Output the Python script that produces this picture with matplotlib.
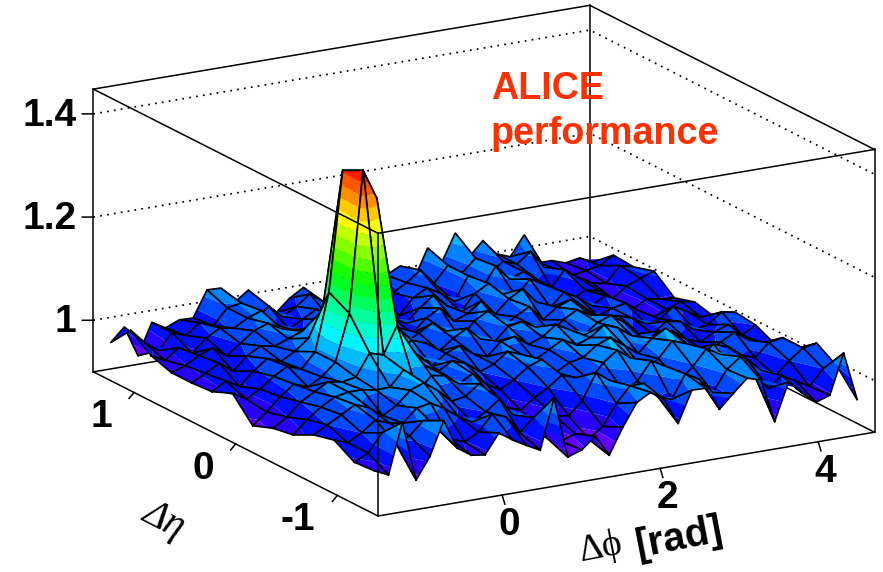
import numpy as np
import matplotlib
matplotlib.use("Agg")
import matplotlib.pyplot as plt
from matplotlib.colors import hsv_to_rgb
from mpl_toolkits.mplot3d import proj3d
from mpl_toolkits.mplot3d.art3d import Poly3DCollection

# bin centres: 36 bins in dphi, 14 bins in deta
phi_lo, phi_hi = -np.pi / 2, 3 * np.pi / 2
eta_lo, eta_hi = -1.4, 1.4
z_lo, z_hi = 0.9, 1.448
phi_edges = np.linspace(phi_lo, phi_hi, 37)
eta_edges = np.linspace(eta_lo, eta_hi, 15)
phi_centres = 0.5 * (phi_edges[:-1] + phi_edges[1:])
eta_centres = 0.5 * (eta_edges[:-1] + eta_edges[1:])

# correlation, one row per deta bin (front to back)
eta_00 = [.975, .963, 1.06, .944, .985, 1.05, .992, .974, .97, 1.008, .99, .975, .961, 1.058, .939, .948, .97, .929, .979, 1.022, 1.037, 1.018, .968, 1.028, 1.027, .982, 1.008, 1.033, 1.025, .94, 1.012, .986, .964, .973, 1.05, .954]
eta_01 = [.972, .985, 1.02, .995, 1.005, 1.03, 1.01, .985, .975, .99, 1.02, 1.01, .975, 1.0, .955, .945, .955, .94, .96, 1.0, 1.03, 1.03, 1.0, .99, 1.035, 1.02, .99, 1.03, 1.05, 1.01, .98, 1.0, .985, .97, 1.0, 1.0]
eta_02 = [.995, .985, 1.0, 1.02, 1.01, 1.005, 1.03, 1.035, 1.02, 1.0, .985, 1.0, 1.02, .985, .96, .95, .97, .965, .99, 1.04, 1.02, .995, 1.01, 1.045, 1.03, .995, 1.02, 1.05, 1.035, 1.0, 1.015, .99, .975, 1.0, 1.02, 1.025]
eta_03 = [.985, 1.0, 1.015, 1.03, 1.02, 1.0, 1.015, 1.04, 1.05, 1.03, 1.005, 1.01, 1.03, 1.0, .975, .965, .985, 1.0, 1.02, 1.01, 1.0, 1.03, 1.05, 1.03, 1.0, 1.02, 1.05, 1.04, 1.01, 1.03, 1.02, 1.0, .99, 1.015, 1.02, .995]
eta_04 = [.965, .99, 1.01, 1.025, 1.03, 1.03, 1.025, 1.026, 1.055, 1.007, 1.035, 1.03, 1.01, 1.025, 1.0, .985, 1.0, 1.02, 1.03, 1.0, 1.015, 1.02, 1.04, 1.05, 1.03, 1.01, 1.035, 1.05, 1.02, 1.0, .99, 1.005, 1.02, 1.0, .99, .981]
eta_05 = [.958, .975, 1.0, 1.015, 1.03, 1.025, 1.03, 1.072, 1.064, 1.117, 1.07, 1.03, 1.015, 1.03, 1.02, 1.0, 1.01, 1.03, 1.02, 1.005, 1.02, 1.035, 1.02, 1.03, 1.05, 1.04, 1.02, 1.005, 1.02, 1.015, .995, .985, 1.0, 1.01, .985, 1.0]
eta_06 = [.943, .965, .99, 1.01, 1.0, 1.015, 1.039, 1.129, 1.402, 1.343, 1.09, 1.035, 1.025, 1.0, 1.02, 1.03, 1.01, 1.0, 1.025, 1.03, 1.01, 1.02, 1.04, 1.025, 1.01, 1.03, 1.04, 1.02, .995, .99, 1.01, 1.005, .985, .99, 1.01, 1.005]
eta_07 = [.986, .97, .985, 1.005, 1.02, 1.01, 1.039, 1.15, 1.382, 1.37, 1.12, 1.04, 1.01, 1.03, 1.02, 1.0, 1.02, 1.035, 1.01, 1.0, 1.025, 1.03, 1.015, 1.0, 1.02, 1.035, 1.02, 1.0, 1.01, 1.0, .985, .99, 1.01, .995, .98, .975]
eta_08 = [.969, .985, .97, .995, 1.015, 1.005, 1.02, 1.041, 1.09, 1.06, 1.03, 1.01, 1.03, 1.045, 1.0, 1.015, 1.03, 1.01, .99, 1.02, 1.035, 1.0, 1.015, 1.03, 1.0, 1.02, 1.03, 1.01, .99, 1.0, 1.005, .985, .97, .98, .99, .985]
eta_09 = [.966, .98, .995, .975, 1.0, 1.015, 1.01, 1.02, 1.03, 1.01, 1.015, 1.03, 1.0, 1.02, 1.03, 1.005, .99, 1.015, 1.03, 1.0, 1.01, 1.03, 1.0, 1.025, 1.04, 1.01, .995, 1.02, 1.005, .985, 1.0, .975, .965, .98, .975, .973]
eta_10 = [.966, .975, .99, 1.0, .98, 1.0, 1.02, 1.03, 1.015, .99, 1.005, 1.02, 1.01, .99, 1.015, 1.025, 1.0, .985, 1.01, 1.03, 1.005, .99, 1.02, 1.035, 1.01, 1.0, 1.03, 1.015, .99, .975, .99, .985, .965, .985, .995, 1.005]
eta_11 = [.979, .965, .985, .97, .995, 1.01, 1.005, 1.02, 1.03, 1.0, .985, 1.0, 1.015, .99, 1.0, 1.02, 1.01, .99, .975, 1.005, 1.02, 1.005, .985, 1.03, 1.0, 1.04, 1.01, 1.02, 1.0, .98, 1.01, .99, .975, .97, 1.0, .993]
eta_12 = [1.008, .98, .96, .99, .98, 1.0, .99, 1.02, 1.025, .985, 1.01, .985, 1.0, 1.02, 1.0, .98, 1.0, 1.02, .99, .995, 1.01, 1.03, 1.0, 1.03, 1.01, 1.035, 1.0, 1.02, 1.01, 1.03, .995, .985, .97, .975, .98, .996]
eta_13 = [.964, .99, .93, .99, .975, .986, .985, 1.035, 1.034, 1.002, 1.021, .968, .968, .992, 1.008, .964, .99, .985, 1.0, .99, 1.005, 1.018, .987, 1.044, 1.01, 1.064, 1.013, 1.04, 1.01, 1.0, 1.038, .979, .979, .97, .975, .963]
corr = np.array([eta_00, eta_01, eta_02, eta_03, eta_04, eta_05, eta_06, eta_07,
                 eta_08, eta_09, eta_10, eta_11, eta_12, eta_13])

phi_ticks = [0, 2, 4]
phi_tick_labels = ["0", "2", "4"]
eta_ticks = [-1, 0, 1]
eta_tick_labels = ["-1", "0", "1"]
z_ticks = [1.0, 1.2, 1.4]
z_tick_labels = ["1", "1.2", "1.4"]

# root style palette, 20 contours between min and max
n_bands = 20
levels = np.linspace(corr.min(), corr.max(), n_bands + 1)
band_colors = [hsv_to_rgb([(1 - (k + 0.5) / n_bands) * 270 / 360, 1, 1]) for k in range(n_bands)]


def clip(poly, level, keep_above):
    out = []
    for a, b in zip(poly, poly[1:] + poly[:1]):
        a_in = (a[2] >= level) == keep_above
        b_in = (b[2] >= level) == keep_above
        if a_in:
            out.append(a)
        if a_in != b_in:
            t = (level - a[2]) / (b[2] - a[2])
            out.append(tuple(a[m] + t * (b[m] - a[m]) for m in range(3)))
    return out


def cell_bands(quad):
    polys, cols = [], []
    for k in range(n_bands):
        p = clip(quad, levels[k], True)
        if len(p) >= 3:
            p = clip(p, levels[k + 1], False)
        if len(p) >= 3:
            polys.append(p)
            cols.append(band_colors[k])
    return polys, cols


plt.rcParams["font.family"] = ["Liberation Sans", "DejaVu Sans"]
fig = plt.figure(figsize=(8.83, 5.72), dpi=100)
ax = fig.add_axes([0, 0, 1, 1], projection="3d", proj_type="ortho", computed_zorder=False)
ax.view_init(elev=17, azim=-120)
ax.set_box_aspect((574, 570, 296))
ax.set_xlim(phi_lo, phi_hi)
ax.set_ylim(eta_lo, eta_hi)
ax.set_zlim(z_lo, z_hi)
ax.set_autoscale_on(False)
ax.set_axis_off()


def to_pixels(x, y, z):
    xs, ys, _ = proj3d.proj_transform(x, y, z, ax.get_proj())
    return ax.transData.transform((xs, ys))


# put the box where it sits in the picture: front-bottom (378,516), right-bottom (875,432)
ax.apply_aspect()
p0 = to_pixels(phi_lo, eta_lo, z_lo)
p1 = to_pixels(phi_hi, eta_lo, z_lo)
scale = 496.5 / (p1[0] - p0[0])
pos = ax.get_position()
w_px = pos.width * 883 * scale
h_px = pos.height * 572 * scale
ax.set_position([pos.x0, pos.y0, w_px / 883, h_px / 572])
ax.apply_aspect()
p0 = to_pixels(phi_lo, eta_lo, z_lo)
pos = ax.get_position()
ax.set_position([pos.x0 + (378 - p0[0]) / 883, pos.y0 + (572 - 516 - p0[1]) / 572, pos.width, pos.height])
ax.apply_aspect()

lw_box = 1.1
# back walls: dotted levels and solid box lines
for z in z_ticks:
    ax.plot([phi_lo, phi_hi, phi_hi], [eta_hi, eta_hi, eta_lo], [z, z, z], color="k", lw=1.25,
            ls=(0, (1, 3)), zorder=1)
ax.plot([phi_lo, phi_hi, phi_hi], [eta_hi, eta_hi, eta_lo], [z_lo, z_lo, z_lo], color="k", lw=lw_box, zorder=2)
ax.plot([phi_hi, phi_hi], [eta_hi, eta_hi], [z_lo, z_hi], color="k", lw=lw_box, zorder=2)
ax.plot([phi_lo, phi_hi, phi_hi], [eta_hi, eta_hi, eta_lo], [z_hi, z_hi, z_hi], color="k", lw=lw_box, zorder=2)

# surface, painted cell by cell from the back corner to the camera
order = 10
for i in range(len(phi_centres) - 2, -1, -1):
    for j in range(len(eta_centres) - 2, -1, -1):
        quad = [(phi_centres[i + a], eta_centres[j + b], corr[j + b, i + a])
                for a, b in [(0, 0), (1, 0), (1, 1), (0, 1)]]
        polys, cols = cell_bands(quad)
        coll = Poly3DCollection(polys, facecolors=cols, edgecolors="none", linewidths=0, zorder=order)
        ax.add_collection3d(coll, autolim=False)
        xs, ys, zs = zip(*(quad + quad[:1]))
        ax.plot(xs, ys, zs, color="k", lw=1.2, solid_joinstyle="miter", zorder=order + 1)
        order += 2

# front box lines on top of the surface
top = order + 1
ax.plot([phi_lo, phi_lo, phi_hi], [eta_hi, eta_lo, eta_lo], [z_lo, z_lo, z_lo], color="k", lw=lw_box, zorder=top)
ax.plot([phi_lo, phi_lo, phi_hi], [eta_hi, eta_lo, eta_lo], [z_hi, z_hi, z_hi], color="k", lw=lw_box, zorder=top)
for x, y in [(phi_lo, eta_hi), (phi_lo, eta_lo), (phi_hi, eta_lo)]:
    ax.plot([x, x], [y, y], [z_lo, z_hi], color="k", lw=lw_box, zorder=top)

# ticks
for t in phi_ticks:
    ax.plot([t, t], [eta_lo, eta_lo - 0.027], [z_lo, z_lo - 0.015], color="k", lw=lw_box, zorder=top)
for t in eta_ticks:
    ax.plot([phi_lo, phi_lo - 0.063], [t, t], [z_lo, z_lo - 0.01], color="k", lw=lw_box, zorder=top)
for t in z_ticks:
    ax.plot([phi_lo, phi_lo - 0.14], [eta_hi, eta_hi], [t, t + 0.0036], color="k", lw=lw_box, zorder=top)

label_size = 28
for t, s in zip(phi_ticks, phi_tick_labels):
    xy = to_pixels(t, eta_lo, z_lo)
    fig.text((xy[0] + 7) / 883, (xy[1] - 30) / 572, s, fontsize=label_size, fontweight="bold", ha="center", va="center")
for t, s in zip(eta_ticks, eta_tick_labels):
    xy = to_pixels(phi_lo, t, z_lo)
    fig.text((xy[0] - 22) / 883, (xy[1] - 25) / 572, s, fontsize=label_size, fontweight="bold", ha="right", va="center")
for t, s in zip(z_ticks, z_tick_labels):
    xy = to_pixels(phi_lo, eta_hi, t)
    fig.text((xy[0] - 17) / 883, (xy[1] - 2) / 572, s, fontsize=label_size, fontweight="bold", ha="right", va="center")

fig.text(601 / 883, 1 - 548 / 572, "\u0394\u03d5", fontsize=27, family=["Liberation Serif", "DejaVu Serif"],
         ha="center", va="center", rotation=11)
fig.text(679 / 883, 1 - 538 / 572, "[rad]", fontsize=28.5, fontweight="bold", ha="center", va="center", rotation=11)
fig.text(163 / 883, 1 - 520 / 572, "\u0394\u03b7", fontsize=28, family=["Liberation Serif", "DejaVu Serif"],
         style="italic", ha="center", va="center", rotation=-27)
fig.text(491 / 883, 1 - 89 / 572, "ALICE", fontsize=27.2, fontweight="bold", color="#ff3000", ha="left", va="center")
fig.text(491 / 883, 1 - 134 / 572, "performance", fontsize=27.2, fontweight="bold", color="#ff3000", ha="left", va="center")

fig.savefig("out.png", dpi=100)
